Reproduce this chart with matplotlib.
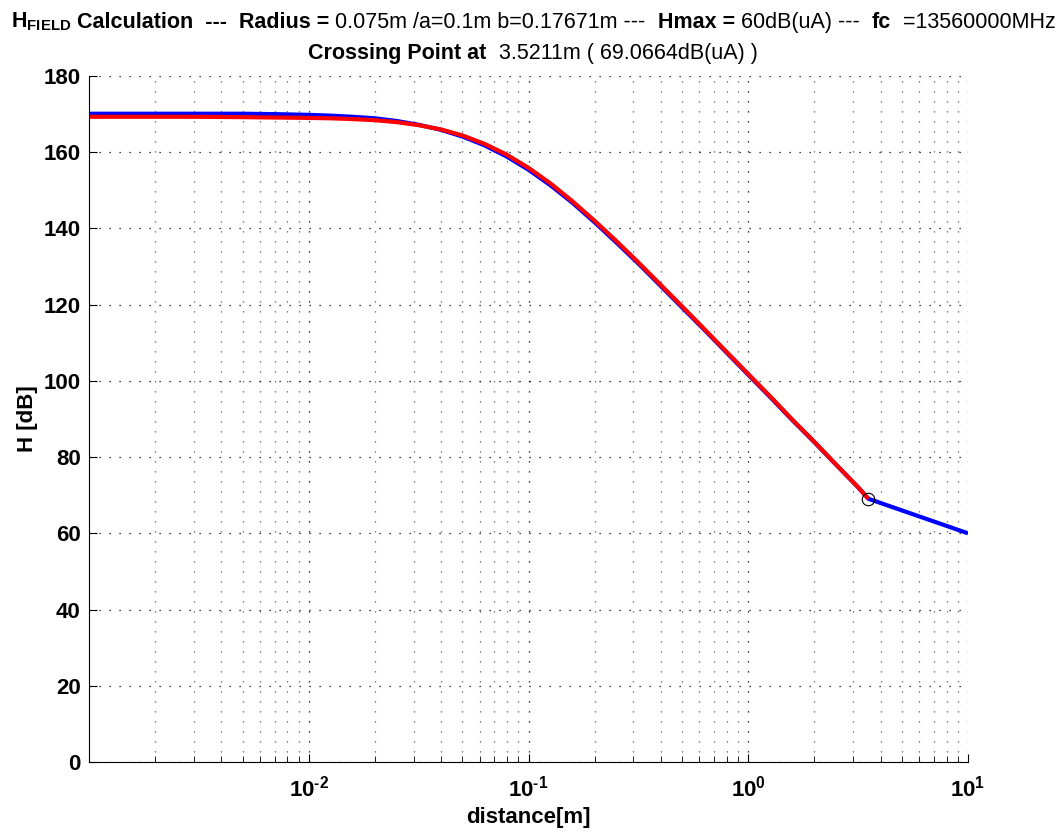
import numpy as np
import matplotlib
matplotlib.use("Agg")
import matplotlib.pyplot as plt
from matplotlib.offsetbox import TextArea, HPacker, AnchoredOffsetbox
from matplotlib.ticker import FixedLocator, FixedFormatter, LogLocator, NullFormatter

plt.rcParams['font.family'] = ['Liberation Sans', 'DejaVu Sans']
plt.rcParams['mathtext.fontset'] = 'custom'
plt.rcParams['mathtext.rm'] = 'Liberation Sans'
plt.rcParams['mathtext.bf'] = 'Liberation Sans:bold'
plt.rcParams['mathtext.it'] = 'Liberation Sans:italic'

# near field curves (distance in m, H in dB(uA))
dist = [0.001, 0.002, 0.003, 0.005, 0.007, 0.01, 0.0126, 0.0158, 0.02, 0.0251,
        0.0316, 0.0398, 0.0501, 0.0631, 0.0794, 0.1, 0.126, 0.158, 0.2, 0.251,
        0.316, 0.398, 0.501, 0.631, 0.794, 1.0, 1.26, 1.58, 2.0, 2.51, 3.16, 3.5211]
h_blue = [170.1, 170.1, 170.1, 170.1, 170.0, 169.8, 169.6, 169.3, 168.9, 168.2,
          167.2, 165.9, 164.1, 161.8, 158.9, 155.4, 151.3, 146.8, 141.6, 136.3,
          130.8, 125.0, 119.2, 113.4, 107.5, 101.6, 95.7, 89.8, 83.9, 78.0, 72.1, 69.0664]
h_red = [169.3, 169.3, 169.3, 169.2, 169.1, 169.0, 168.9, 168.7, 168.4, 167.9,
         167.1, 166.0, 164.4, 162.2, 159.4, 155.9, 151.8, 147.2, 142.0, 136.7,
         131.1, 125.3, 119.5, 113.6, 107.7, 101.8, 95.9, 89.95, 84.0, 78.05, 72.1, 69.0664]
# far field part of the blue curve
dist_far = [3.5211, 10.0]
h_far = [69.0664, 60.0]
cross_d = 3.5211
cross_h = 69.0664

x_ticks = [0.01, 0.1, 1, 10]
x_ticklabels = ['$\\mathbf{10^{\u20102}}$', '$\\mathbf{10^{\u20101}}$',
                r'$\mathbf{10^{0}}$', r'$\mathbf{10^{1}}$']
y_ticks = [0, 20, 40, 60, 80, 100, 120, 140, 160, 180]

fig = plt.figure(figsize=(10.62, 8.32), dpi=100)
ax = fig.add_axes([89 / 1062, 1 - 762 / 832, (968 - 89) / 1062, (762 - 76) / 832])

ax.plot(dist + dist_far[1:], h_blue + h_far[1:], color='#0000ff', lw=3, solid_capstyle='butt')
ax.plot(dist, h_red, color='#ff0000', lw=3, solid_capstyle='butt')
ax.plot([cross_d], [cross_h], 'o', mfc='none', mec='k', ms=9, mew=0.8)

ax.set_xscale('log')
ax.set_xlim(0.001, 10)
ax.set_ylim(0, 180)
ax.xaxis.set_major_locator(FixedLocator(x_ticks))
ax.xaxis.set_major_formatter(FixedFormatter(x_ticklabels))
ax.xaxis.set_minor_locator(LogLocator(base=10, subs=np.arange(2, 10)))
ax.xaxis.set_minor_formatter(NullFormatter())
ax.set_yticks(y_ticks)
ax.set_yticklabels([str(v) for v in y_ticks], fontweight='bold')

ax.tick_params(axis='both', which='major', direction='in', length=6, width=0.8,
               labelsize=16, pad=6)
ax.tick_params(axis='x', which='minor', direction='in', length=4, width=0.6)
ax.tick_params(axis='x', which='major', pad=10)

dots = (0, (1, 7))
ax.grid(True, which='major', axis='both', linestyle=dots, color='k', lw=0.9)
ax.grid(True, which='minor', axis='x', linestyle=dots, color='0.35', lw=0.9)
ax.set_axisbelow(True)

for s in ['top', 'right']:
    ax.spines[s].set_visible(False)

ax.set_xlabel('distance[m]', fontsize=16, fontweight='bold', labelpad=4)
ax.set_ylabel('H [dB]', fontsize=16, fontweight='bold', labelpad=4)


def title_row(pieces, y, size):
    boxes = []
    for txt, bold in pieces:
        boxes.append(TextArea(txt, textprops=dict(fontsize=size,
                                                  fontweight='bold' if bold else 'normal')))
    row = HPacker(children=boxes, pad=0, sep=0, align='baseline')
    box = AnchoredOffsetbox(loc='center', child=row, pad=0, frameon=False,
                            bbox_to_anchor=(533 / 1062, y), bbox_transform=fig.transFigure,
                            borderpad=0)
    fig.add_artist(box)


title_row([(r'$\mathbf{H_{FIELD}}$', True), (' Calculation  ---  ', True),
           ('Radius = ', True), ('0.075m /a=0.1m b=0.17671m --- ', False),
           (' Hmax = ', True), ('60dB(uA) ---  ', False),
           ('fc', True), ('  =13560000MHz', False)], 1 - 22 / 832, 15.5)
title_row([('Crossing Point at ', True), (' 3.5211m ( 69.0664dB(uA) )', False)],
          1 - 53 / 832, 15.5)

fig.savefig('out.png', dpi=100)
